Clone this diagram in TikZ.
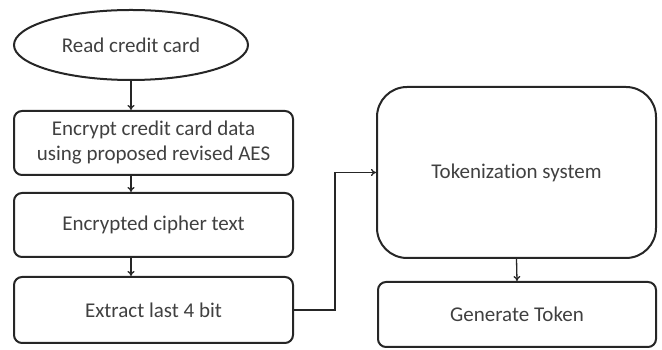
\documentclass[tikz,border=0pt]{standalone}
\usepackage{fontspec}
\setmainfont{Carlito}[Ligatures={NoCommon}]
\usetikzlibrary{shapes.geometric,arrows.meta}
\begin{document}
\begin{tikzpicture}[x=1pt,y=1pt,
  box/.style={draw=black!85,line width=2pt,rounded corners=8pt,align=center,inner sep=0pt,font=\fontsize{21}{25}\selectfont,text=black!75},
  conn/.style={draw=black!85,line width=1.3pt,-{To[length=5pt,width=7pt]}}]
\useasboundingbox (0,0) rectangle (662,350);
\node[box,ellipse,rounded corners=0pt,minimum width=234pt,minimum height=70pt] (ell) at (131,305) {Read credit card};
\node[box,minimum width=279pt,minimum height=64pt] (enc) at (153.5,207) {Encrypt credit card data\\using proposed revised AES};
\node[box,minimum width=279pt,minimum height=64pt] (cip) at (153.5,125) {Encrypted cipher text};
\node[box,minimum width=279pt,minimum height=66pt] (ext) at (153.5,40) {Extract last 4 bit};
\node[box,rounded corners=30pt,minimum width=279pt,minimum height=171pt] (tok) at (516.5,177.5) {Tokenization system};
\node[box,minimum width=278pt,minimum height=65pt] (gen) at (517,35.5) {Generate Token};
\draw[conn] (ell.south) -- (ell.south |- enc.north);
\draw[conn] (ell.south |- enc.south) -- (ell.south |- cip.north);
\draw[conn] (ell.south |- cip.south) -- (ell.south |- ext.north);
\draw[conn] (ext.east) -- ++(41,0) |- (tok.west);
\draw[conn] (tok.south) -- (gen.north);
\end{tikzpicture}
\end{document}
